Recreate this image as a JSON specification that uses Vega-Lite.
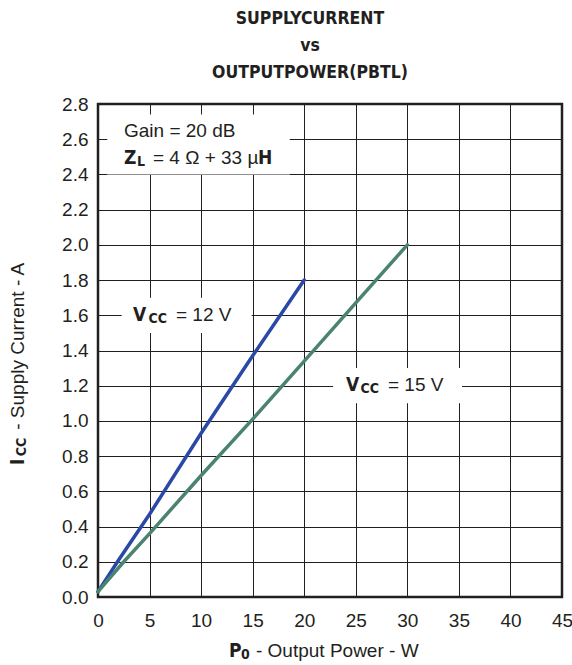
{
  "$schema": "https://vega.github.io/schema/vega-lite/v6.json",
  "autosize": "none",
  "width": 464,
  "height": 493,
  "padding": {"left": 98, "top": 104, "right": 10, "bottom": 68},
  "background": "white",
  "config": {
    "view": {"stroke": "#231f20", "strokeWidth": 2.5},
    "font": "Liberation Sans",
    "axis": {
      "gridColor": "#231f20", "gridOpacity": 1, "gridWidth": 1,
      "domain": false, "ticks": false, "labelOverlap": false, "labelFlush": false,
      "labelFont": "Liberation Sans", "labelFontSize": 19, "labelColor": "#231f20"
    }
  },
  "title": {
    "text": ["SUPPLYCURRENT", "vs", "OUTPUTPOWER(PBTL)"],
    "font": "DejaVu Sans Condensed, Liberation Sans",
    "fontSize": 17.5,
    "fontWeight": "bold",
    "color": "#231f20",
    "lineHeight": 27,
    "anchor": "middle",
    "dx": -20,
    "offset": 14
  },
  "datasets": {
    "curves": [
      {"p": 0, "i": 0.03, "s": "12"},
      {"p": 2, "i": 0.21, "s": "12"},
      {"p": 5, "i": 0.47, "s": "12"},
      {"p": 10, "i": 0.93, "s": "12"},
      {"p": 15, "i": 1.37, "s": "12"},
      {"p": 20, "i": 1.8, "s": "12"},
      {"p": 0, "i": 0.03, "s": "15"},
      {"p": 2.5, "i": 0.2, "s": "15"},
      {"p": 5, "i": 0.36, "s": "15"},
      {"p": 10, "i": 0.69, "s": "15"},
      {"p": 15, "i": 1.01, "s": "15"},
      {"p": 20, "i": 1.34, "s": "15"},
      {"p": 25, "i": 1.67, "s": "15"},
      {"p": 30, "i": 2.0, "s": "15"}
    ],
    "boxes": [
      {"x1": 0.9, "x2": 18.6, "y1": 2.4, "y2": 2.74},
      {"x1": 2.3, "x2": 14.9, "y1": 1.5, "y2": 1.7},
      {"x1": 22.8, "x2": 35.3, "y1": 1.1, "y2": 1.3}
    ],
    "normal": [
      {"x": 2.52, "y": 2.648, "t": "Gain = 20 dB"},
      {"x": 5.33, "y": 2.494, "t": "= 4 Ω + 33 µ"},
      {"x": 7.56, "y": 1.602, "t": "= 12 V"},
      {"x": 28.12, "y": 1.205, "t": "= 15 V"},
      {"x": 15.32, "y": -0.307, "t": "- Output Power - W"}
    ],
    "bold": [
      {"x": 2.52, "y": 2.494, "t": "Z"},
      {"x": 15.52, "y": 2.494, "t": "H"},
      {"x": 3.39, "y": 1.602, "t": "V"},
      {"x": 24.05, "y": 1.205, "t": "V"},
      {"x": 12.7, "y": -0.307, "t": "P"}
    ],
    "sub": [
      {"x": 3.78, "y": 2.47, "t": "L"},
      {"x": 4.9, "y": 1.578, "t": "CC"},
      {"x": 25.45, "y": 1.18, "t": "CC"},
      {"x": 13.87, "y": -0.33, "t": "0"}
    ],
    "vnormal": [{"x": -7.76, "y": 0.95, "t": "- Supply Current - A"}],
    "vbold": [{"x": -7.76, "y": 0.75, "t": "I"}],
    "vsub": [{"x": -7.37, "y": 0.8, "t": "CC"}]
  },
  "layer": [
    {
      "data": {"name": "boxes"},
      "mark": {"type": "rect", "color": "white"},
      "encoding": {
        "x": {"field": "x1", "type": "quantitative", "scale": {"domain": [0, 45], "nice": false}, "axis": {"values": [0,5,10,15,20,25,30,35,40,45], "tickCount": 20, "title": null, "labelPadding": 14}},
        "x2": {"field": "x2"},
        "y": {"field": "y1", "type": "quantitative", "scale": {"domain": [0, 2.8], "nice": false}, "axis": {"values": [0,0.2,0.4,0.6,0.8,1.0,1.2,1.4,1.6,1.8,2.0,2.2,2.4,2.6,2.8], "tickCount": 20, "format": ".1f", "title": null, "labelPadding": 10}},
        "y2": {"field": "y2"}
      }
    },
    {
      "data": {"name": "curves"},
      "mark": {"type": "line", "strokeWidth": 3.5, "strokeCap": "round"},
      "encoding": {
        "x": {"field": "p", "type": "quantitative"},
        "y": {"field": "i", "type": "quantitative"},
        "color": {"field": "s", "type": "nominal", "scale": {"domain": ["12", "15"], "range": ["#2a48a6", "#4a8470"]}, "legend": null}
      }
    },
    {
      "data": {"name": "normal"},
      "mark": {"type": "text", "align": "left", "baseline": "middle", "fontSize": 19, "color": "#231f20"},
      "encoding": {"x": {"field": "x", "type": "quantitative"}, "y": {"field": "y", "type": "quantitative"}, "text": {"field": "t"}}
    },
    {
      "data": {"name": "bold"},
      "mark": {"type": "text", "align": "left", "baseline": "middle", "fontSize": 19, "fontWeight": "bold", "font": "DejaVu Sans Condensed, Liberation Sans", "color": "#231f20"},
      "encoding": {"x": {"field": "x", "type": "quantitative"}, "y": {"field": "y", "type": "quantitative"}, "text": {"field": "t"}}
    },
    {
      "data": {"name": "sub"},
      "mark": {"type": "text", "align": "left", "baseline": "middle", "fontSize": 14, "fontWeight": "bold", "font": "DejaVu Sans Condensed, Liberation Sans", "color": "#231f20"},
      "encoding": {"x": {"field": "x", "type": "quantitative"}, "y": {"field": "y", "type": "quantitative"}, "text": {"field": "t"}}
    },
    {
      "data": {"name": "vnormal"},
      "mark": {"type": "text", "align": "left", "baseline": "middle", "angle": 270, "fontSize": 19, "color": "#231f20"},
      "encoding": {"x": {"field": "x", "type": "quantitative"}, "y": {"field": "y", "type": "quantitative"}, "text": {"field": "t"}}
    },
    {
      "data": {"name": "vbold"},
      "mark": {"type": "text", "align": "left", "baseline": "middle", "angle": 270, "fontSize": 19, "fontWeight": "bold", "font": "DejaVu Sans Condensed, Liberation Sans", "color": "#231f20"},
      "encoding": {"x": {"field": "x", "type": "quantitative"}, "y": {"field": "y", "type": "quantitative"}, "text": {"field": "t"}}
    },
    {
      "data": {"name": "vsub"},
      "mark": {"type": "text", "align": "left", "baseline": "middle", "angle": 270, "fontSize": 14, "fontWeight": "bold", "font": "DejaVu Sans Condensed, Liberation Sans", "color": "#231f20"},
      "encoding": {"x": {"field": "x", "type": "quantitative"}, "y": {"field": "y", "type": "quantitative"}, "text": {"field": "t"}}
    }
  ]
}
